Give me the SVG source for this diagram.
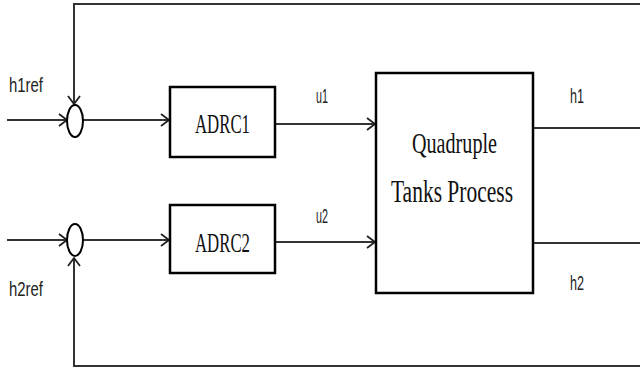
<svg xmlns="http://www.w3.org/2000/svg" width="640" height="369" viewBox="0 0 640 369">
<defs>
<marker id="arr" markerUnits="userSpaceOnUse" markerWidth="14" markerHeight="14" refX="10" refY="7" orient="auto">
<path d="M2,1 L10,7 L2,13" fill="none" stroke="#222" stroke-width="1.8"/>
</marker>
</defs>
<style>
.ln{fill:none;stroke:#333;stroke-width:2}
.box{fill:#fff;stroke:#000;stroke-width:2.5}
.sum{fill:#fff;stroke:#000;stroke-width:2}
.lbl{font-family:"Liberation Sans",Arial,sans-serif;font-size:20px;fill:#222}
.blk{font-family:"Liberation Serif","Times New Roman",serif;fill:#111}
</style>
<rect width="640" height="369" fill="#fff"/>
<g id="connectors">
<path class="ln" d="M7,120 H67" marker-end="url(#arr)"/>
<path class="ln" d="M640,4 H74 V104" marker-end="url(#arr)"/>
<path class="ln" d="M83,120 H169" marker-end="url(#arr)"/>
<path class="ln" d="M275,124 H375" marker-end="url(#arr)"/>
<path class="ln" d="M533,128 H640"/>
<path class="ln" d="M7,240 H67" marker-end="url(#arr)"/>
<path class="ln" d="M640,366 H74 V258" marker-end="url(#arr)"/>
<path class="ln" d="M83,240 H169" marker-end="url(#arr)"/>
<path class="ln" d="M275,242 H375" marker-end="url(#arr)"/>
<path class="ln" d="M533,243 H640"/>
</g>
<g id="sum1"><ellipse class="sum" cx="75" cy="121" rx="8" ry="16"/></g>
<g id="sum2"><ellipse class="sum" cx="75" cy="240" rx="8" ry="16"/></g>
<g id="adrc1"><rect class="box" x="170" y="87" width="105" height="70"/><text class="blk" x="195" y="133" font-size="28" textLength="55" lengthAdjust="spacingAndGlyphs">ADRC1</text></g>
<g id="adrc2"><rect class="box" x="170" y="205" width="105" height="68"/><text class="blk" x="195" y="252" font-size="28" textLength="55" lengthAdjust="spacingAndGlyphs">ADRC2</text></g>
<g id="process"><rect class="box" x="376" y="73" width="157" height="220"/><text class="blk" x="412" y="153" font-size="30" textLength="85" lengthAdjust="spacingAndGlyphs">Quadruple</text><text class="blk" x="391" y="202" font-size="31" textLength="122" lengthAdjust="spacingAndGlyphs">Tanks Process</text></g>
<g id="labels">
<text class="lbl" x="9" y="92" textLength="34" lengthAdjust="spacingAndGlyphs">h1ref</text>
<text class="lbl" x="9" y="296" textLength="34" lengthAdjust="spacingAndGlyphs">h2ref</text>
<text class="lbl" x="316" y="103" textLength="12" lengthAdjust="spacingAndGlyphs">u1</text>
<text class="lbl" x="316" y="223" textLength="12" lengthAdjust="spacingAndGlyphs">u2</text>
<text class="lbl" x="570" y="103" textLength="14" lengthAdjust="spacingAndGlyphs">h1</text>
<text class="lbl" x="570" y="290" textLength="14" lengthAdjust="spacingAndGlyphs">h2</text>
</g>
</svg>
